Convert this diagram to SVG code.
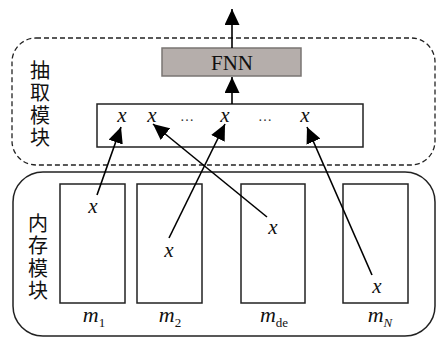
<svg xmlns="http://www.w3.org/2000/svg" width="437" height="338" viewBox="0 0 437 338">
<style>
.box{fill:#fff;stroke:#222;stroke-width:1.5}
.ln{stroke:#000;stroke-width:1.6;fill:none}
.tx{font-family:"Liberation Serif",serif;fill:#111}
.xi{font-family:"Liberation Serif",serif;font-style:italic;font-size:21px;fill:#111;text-anchor:middle}
.cj{font-family:"Noto Sans CJK SC",sans-serif;font-size:20px;fill:#111;writing-mode:vertical-rl;letter-spacing:2.5px}
.dots{font-family:"Liberation Serif",serif;font-size:14px;fill:#333;text-anchor:middle}
.ml{font-family:"Liberation Serif",serif;font-size:22px;fill:#111;text-anchor:middle}
</style>
<defs>
<marker id="ah" markerWidth="16" markerHeight="15" refX="16" refY="7.5" orient="auto" markerUnits="userSpaceOnUse">
<path d="M0,0 L16,7.5 L0,15 Z" fill="#000"/>
</marker>
</defs>
<rect width="437" height="338" fill="#fff"/>
<g id="extract">
<rect x="12" y="38" width="423" height="127" rx="24" fill="none" stroke="#222" stroke-width="1.3" stroke-dasharray="5,3"/>
<text class="cj" x="40" y="60">抽取模块</text>
</g>
<g id="fnn">
<rect x="162" y="48" width="139" height="28" fill="#b5aeab" stroke="#7a7573" stroke-width="1.5"/>
<text class="tx" x="232" y="70" font-size="21" text-anchor="middle">FNN</text>
</g>
<g id="xbox">
<rect class="box" x="97" y="104" width="266" height="43"/>
<text class="xi" x="122" y="122">x</text>
<text class="xi" x="152" y="122">x</text>
<text class="dots" x="187" y="121">…</text>
<text class="xi" x="225" y="122">x</text>
<text class="dots" x="265" y="121">…</text>
<text class="xi" x="305" y="122">x</text>
</g>
<g id="memory">
<rect x="13" y="172" width="422" height="164" rx="30" fill="none" stroke="#222" stroke-width="1.5"/>
<text class="cj" x="38" y="213">内存模块</text>
</g>
<g id="m1">
<rect class="box" x="60" y="184" width="65" height="119"/>
<text class="xi" x="93" y="213">x</text>
<text class="ml" x="94" y="322"><tspan font-style="italic">m</tspan><tspan font-size="13" dy="5">1</tspan></text>
</g>
<g id="m2">
<rect class="box" x="137" y="184" width="65" height="119"/>
<text class="xi" x="169" y="257">x</text>
<text class="ml" x="170" y="322"><tspan font-style="italic">m</tspan><tspan font-size="13" dy="5">2</tspan></text>
</g>
<g id="mde">
<rect class="box" x="241" y="184" width="64" height="119"/>
<text class="xi" x="273" y="234">x</text>
<text class="ml" x="274" y="322"><tspan font-style="italic">m</tspan><tspan font-size="13" dy="5">de</tspan></text>
</g>
<g id="mN">
<rect class="box" x="343" y="184" width="65" height="119"/>
<text class="xi" x="377" y="293">x</text>
<text class="ml" x="380" y="322"><tspan font-style="italic">m</tspan><tspan font-size="13" font-style="italic" dy="5">N</tspan></text>
</g>
<g id="connectors">
<line class="ln" x1="232" y1="48" x2="232" y2="9" marker-end="url(#ah)"/>
<line class="ln" x1="232" y1="104" x2="232" y2="77" marker-end="url(#ah)"/>
<line class="ln" x1="97" y1="195" x2="121" y2="127" marker-end="url(#ah)"/>
<line class="ln" x1="267" y1="217" x2="153" y2="124" marker-end="url(#ah)"/>
<line class="ln" x1="169" y1="238" x2="225" y2="124" marker-end="url(#ah)"/>
<line class="ln" x1="372" y1="275" x2="307" y2="127" marker-end="url(#ah)"/>
</g>
</svg>
